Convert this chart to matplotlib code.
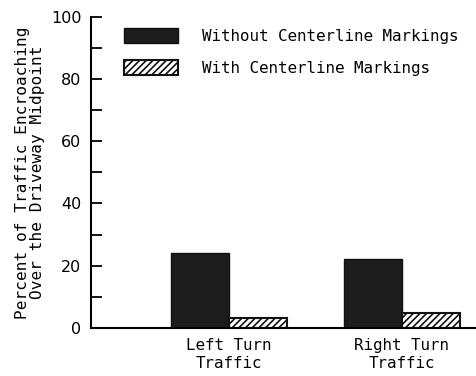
import numpy as np
import matplotlib.pyplot as plt
from matplotlib.patches import Patch

categories = ["Left Turn\nTraffic", "Right Turn\nTraffic"]
without_marks = [24.0, 22.0]
with_marks = [3.3, 4.7]
series_names = ["Without Centerline Markings", "With Centerline Markings"]

mono = "DejaVu Sans Mono"
plt.rcParams["hatch.linewidth"] = 1.2

fig = plt.figure(figsize=(4.77, 3.76), dpi=100)
ax = fig.add_axes([0.191, 0.128, 0.809, 0.827])

x = np.arange(len(categories))
w = 0.336
ax.bar(x - w / 2, without_marks, w, color="#1c1c1c", edgecolor="#111111", linewidth=1)
ax.bar(x + w / 2, with_marks, w, color="white", edgecolor="#111111", hatch="/////", linewidth=1.5)

ax.set_xlim(-0.8, 1.436)
ax.set_ylim(0, 100)
ax.spines["top"].set_visible(False)
ax.spines["right"].set_visible(False)
ax.spines["left"].set_linewidth(1.5)
ax.spines["bottom"].set_linewidth(1.5)

ax.set_yticks(np.arange(0, 101, 20))
ax.set_yticks(np.arange(10, 100, 20), minor=True)
ax.tick_params(axis="y", which="both", direction="in", length=8, width=1.3, pad=7,
               labelsize=11.5)
ax.set_xticks(x)
ax.set_xticklabels(categories, fontfamily=mono, fontsize=11.4, linespacing=1.25)
ax.tick_params(axis="x", length=0, pad=7)

ax.set_ylabel("Percent of Traffic Encroaching\nOver the Driveway Midpoint",
              fontfamily=mono, fontsize=11.6, linespacing=1.05, labelpad=4)

handles = [Patch(facecolor="#1c1c1c", edgecolor="#111111"),
           Patch(facecolor="white", edgecolor="#111111", hatch="/////", linewidth=1.5)]
fig.legend(handles, series_names, loc="upper left",
           bbox_to_anchor=(116 / 477, 1 - 20 / 376), frameon=False, borderpad=0,
           prop={"family": mono, "size": 11.4}, handlelength=3.4, handleheight=1.08,
           labelspacing=1.0, handletextpad=1.5)

fig.savefig("out.png", dpi=100)
